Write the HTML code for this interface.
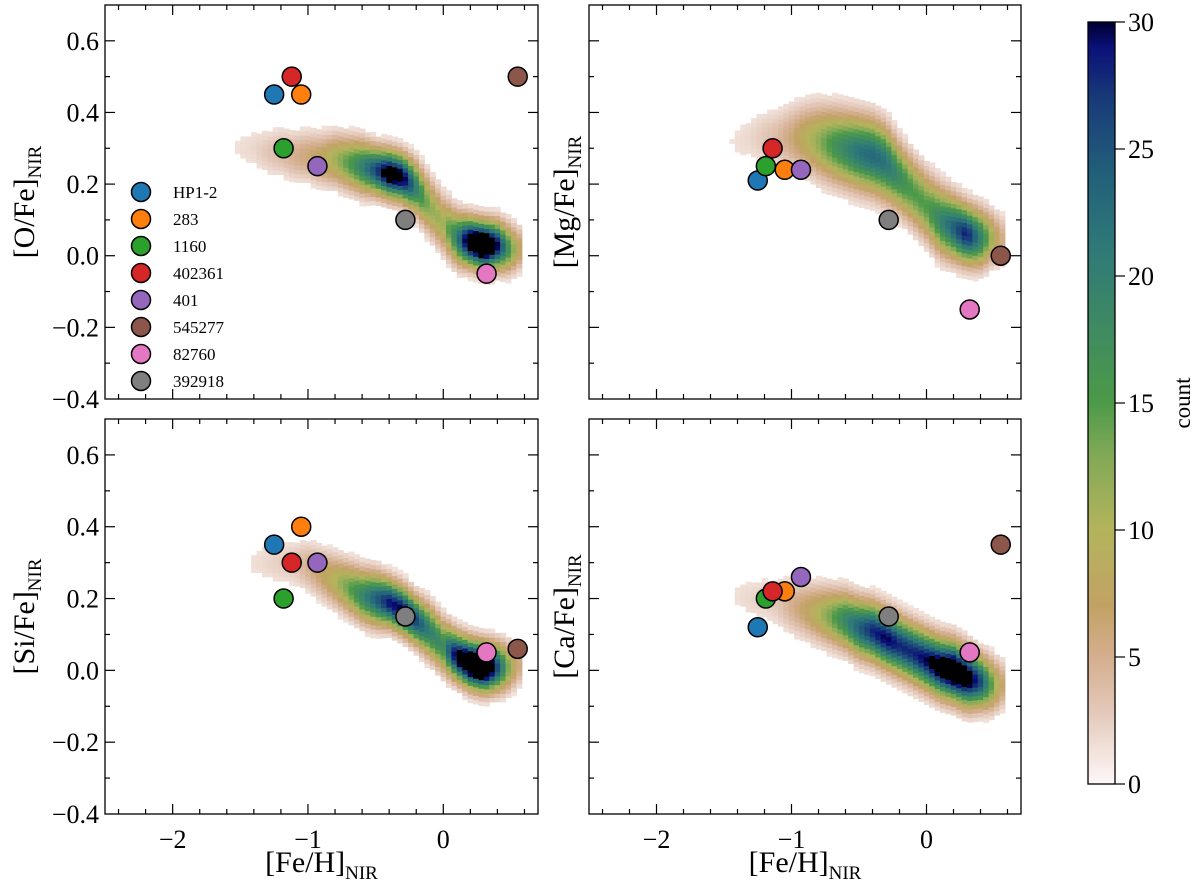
<!DOCTYPE html>
<html><head><meta charset="utf-8"><style>
body{margin:0;background:#fff}
svg{display:block;font-family:"Liberation Serif",serif}
</style></head><body>
<svg id="fig" width="1200" height="886" viewBox="0 0 1200 886">
<defs>
<linearGradient id="cbg" x1="0" y1="1" x2="0" y2="0"></linearGradient>
</defs>
</svg>
<script>
// ---- data ----
var ridgeX = [-1.6,-1.5,-1.4,-1.3,-1.2,-1.1,-1.0,-0.9,-0.8,-0.7,-0.6,-0.5,-0.4,-0.3,-0.2,-0.1,0.0,0.1,0.2,0.3,0.4,0.5,0.6];
var oCenter = [0.30,0.30,0.30,0.29,0.29,0.28,0.28,0.27,0.27,0.26,0.25,0.24,0.23,0.22,0.19,0.14,0.09,0.05,0.04,0.03,0.03,0.02,0.02];
var oPeak   = [1,1.5,2,3,4,5,6,8,11,15,20,26,34,32,20,12,11,20,36,42,30,14,4];
var oWidth  = [0.05,0.05,0.05,0.05,0.05,0.05,0.05,0.05,0.05,0.05,0.05,0.045,0.045,0.045,0.05,0.055,0.055,0.05,0.045,0.045,0.045,0.045,0.04];
var mgCenter = [0.32,0.32,0.32,0.33,0.33,0.33,0.33,0.33,0.32,0.31,0.30,0.29,0.28,0.26,0.22,0.18,0.14,0.10,0.08,0.06,0.05,0.05,0.04];
var mgPeak   = [1,1,1.5,2,3,4,6,9,12,16,19,22,23,22,18,15,15,19,24,29,20,9,3];
var mgWidth  = [0.06,0.06,0.06,0.06,0.06,0.06,0.065,0.065,0.07,0.07,0.07,0.07,0.07,0.07,0.065,0.065,0.065,0.065,0.06,0.055,0.055,0.05,0.05];
var siCenter = [0.30,0.30,0.30,0.30,0.30,0.30,0.29,0.27,0.25,0.23,0.21,0.20,0.19,0.17,0.14,0.11,0.07,0.04,0.02,0.01,0.01,0.01,0.02];
var siPeak   = [0.5,1,1.5,2,2.5,3,5,7,10,14,19,24,29,30,26,20,18,32,40,42,26,10,3];
var siWidth  = [0.05,0.05,0.05,0.05,0.05,0.05,0.05,0.05,0.05,0.05,0.05,0.05,0.045,0.045,0.045,0.05,0.05,0.045,0.045,0.045,0.045,0.045,0.04];
var caCenter = [0.21,0.21,0.21,0.20,0.20,0.19,0.18,0.17,0.16,0.15,0.14,0.12,0.11,0.09,0.07,0.05,0.03,0.01,0.00,-0.02,-0.03,-0.04,-0.04];
var caPeak   = [0.5,1,1.5,2,2.5,3,5,7,10,14,19,24,28,30,28,28,30,34,38,34,26,12,3];
var caWidth  = [0.05,0.05,0.05,0.05,0.05,0.055,0.055,0.055,0.055,0.055,0.055,0.055,0.055,0.055,0.055,0.055,0.055,0.055,0.055,0.055,0.05,0.05,0.045];

var starNames  = ["HP1-2","283","1160","402361","401","545277","82760","392918"];
var starColors = ["#1f77b4","#ff7f0e","#2ca02c","#d62728","#9467bd","#8c564b","#e377c2","#7f7f7f"];
var starFeH    = [-1.25,-1.05,-1.18,-1.12,-0.93,0.55,0.32,-0.28];
var starFeHR   = [-1.25,-1.05,-1.19,-1.14,-0.93,0.55,0.32,-0.28];
var starO  = [0.45,0.45,0.30,0.50,0.25,0.50,-0.05,0.10];
var starMg = [0.21,0.24,0.25,0.30,0.24,0.00,-0.15,0.10];
var starSi = [0.35,0.40,0.20,0.30,0.30,0.06,0.05,0.15];
var starCa = [0.12,0.22,0.20,0.22,0.26,0.35,0.05,0.15];

var xTicks = [-2,-1,0];
var xTickLabels = ["\u22122","\u22121","0"];
var yTicks = [-0.4,-0.2,0.0,0.2,0.4,0.6];
var yTickLabels = ["\u22120.4","\u22120.2","0.0","0.2","0.4","0.6"];
var cbTicks = [0,5,10,15,20,25,30];

// ---- colormap ----
var cmapStops = [[0,"#fdf7f7"],[3,"#e2c6b6"],[5,"#d4ae8e"],[7,"#c2a264"],[10,"#b3b45c"],[13,"#80a856"],[15,"#4c9a48"],[18,"#3f8a62"],[21,"#2f7a78"],[24,"#22607a"],[27,"#183a78"],[29,"#0a1078"],[30,"#000030"]];
function hex2rgb(h){return [parseInt(h.substr(1,2),16),parseInt(h.substr(3,2),16),parseInt(h.substr(5,2),16)];}
function cmap(v){
  if(v>=30) return "#000000";
  for(var i=1;i<cmapStops.length;i++){
    if(v<=cmapStops[i][0]){
      var a=cmapStops[i-1],b=cmapStops[i],t=(v-a[0])/(b[0]-a[0]);
      var ca=hex2rgb(a[1]),cb=hex2rgb(b[1]);
      return "rgb("+ca.map(function(c,k){return Math.round(c+(cb[k]-c)*t);}).join(",")+")";
    }
  }
  return "#000";
}

var NS="http://www.w3.org/2000/svg";
var svg=document.getElementById('fig');
function el(tag,attrs,parent){var e=document.createElementNS(NS,tag);for(var k in attrs)e.setAttribute(k,attrs[k]);(parent||svg).appendChild(e);return e;}

var XMIN=-2.5,XMAX=0.7,YMIN=-0.4,YMAX=0.7;
var panels=[
 {name:"o-fe",x0:105,x1:538,y0:5,y1:399,center:oCenter,peak:oPeak,width:oWidth,sy:starO,sx:starFeH,label:"[O/Fe]",left:true,bottom:false,legend:true},
 {name:"mg-fe",x0:589,x1:1021,y0:5,y1:399,center:mgCenter,peak:mgPeak,width:mgWidth,sy:starMg,sx:starFeHR,label:"[Mg/Fe]",left:false,bottom:false},
 {name:"si-fe",x0:105,x1:538,y0:419,y1:814,center:siCenter,peak:siPeak,width:siWidth,sy:starSi,sx:starFeH,label:"[Si/Fe]",left:true,bottom:true},
 {name:"ca-fe",x0:589,x1:1021,y0:419,y1:814,center:caCenter,peak:caPeak,width:caWidth,sy:starCa,sx:starFeHR,label:"[Ca/Fe]",left:false,bottom:true}
];

panels.forEach(function(p){
  var g=el('g',{});
  
  
  function X(v){return p.x0+(v-XMIN)/(XMAX-XMIN)*(p.x1-p.x0);}
  function Y(v){return p.y1-(v-YMIN)/(YMAX-YMIN)*(p.y1-p.y0);}
  var hm=el('g',{},g);
  
  
  var dx=0.04,dy=0.012;
  for(var fx=-1.66;fx<0.64;fx+=dx){
    var cx=fx+dx/2;
    var f=(cx-ridgeX[0])/0.1, i=Math.floor(f);
    if(i<0||i>=ridgeX.length-1)continue;
    var t=f-i;
    var c=p.center[i]+(p.center[i+1]-p.center[i])*t;
    var pk=p.peak[i]+(p.peak[i+1]-p.peak[i])*t;
    var w=(p.width[i]+(p.width[i+1]-p.width[i])*t)*0.9;
    for(var fy=c-3*w;fy<c+3*w;fy+=dy){
      var cy=fy+dy/2;
      var v=pk*Math.exp(-(cy-c)*(cy-c)/(2*w*w));
      if(v<1.3)continue;
      var r=el('rect',{x:X(fx).toFixed(2),y:Y(fy+dy).toFixed(2),width:(X(fx+dx)-X(fx)+0.6).toFixed(2),height:(Y(fy)-Y(fy+dy)+0.6).toFixed(2),fill:cmap(v)},hm);
      
      
    }
  }
  for(var s=0;s<starNames.length;s++){
    var m=el('circle',{cx:X(p.sx[s]),cy:Y(p.sy[s]),r:9.5,fill:starColors[s],stroke:"#000","stroke-width":1.5},g);
    
    
  }
  var fr=el('rect',{x:p.x0,y:p.y0,width:p.x1-p.x0,height:p.y1-p.y0,fill:"none",stroke:"#000","stroke-width":1.3},g);
  
  
  var tk=el('g',{stroke:"#000","stroke-width":1.2},g);
  
  
  for(var xv=-2.4;xv<=0.61;xv+=0.2){
    var xx=X(xv), major=Math.abs(xv-Math.round(xv))<1e-6, L=major?10:5;
    el('line',{x1:xx,x2:xx,y1:p.y1,y2:p.y1-L},tk);
    el('line',{x1:xx,x2:xx,y1:p.y0,y2:p.y0+L},tk);
  }
  for(var yv=-0.3;yv<=0.65;yv+=0.1){
    var yy=Y(yv), mj=Math.abs(yv*5-Math.round(yv*5))<1e-6, L2=mj?10:5;
    el('line',{x1:p.x0,x2:p.x0+L2,y1:yy,y2:yy},tk);
    el('line',{x1:p.x1,x2:p.x1-L2,y1:yy,y2:yy},tk);
  }
  if(p.left){
    yTicks.forEach(function(v,k){
      var t=el('text',{x:p.x0-6,y:Y(v)+9,"text-anchor":"end","font-size":26},g);
      t.textContent=yTickLabels[k];
      
      
    });
  }
  var yl=el('text',{transform:"translate("+(p.left?34:574)+","+((p.y0+p.y1)/2)+") rotate(-90)","text-anchor":"middle","font-size":30},g);
  yl.innerHTML=p.label+'<tspan font-size="19" dy="7">NIR</tspan>';
  
  
  if(p.bottom){
    xTicks.forEach(function(v,k){
      var t=el('text',{x:X(v),y:p.y1+34,"text-anchor":"middle","font-size":26},g);
      t.textContent=xTickLabels[k];
      
      
    });
    var xl=el('text',{x:(p.x0+p.x1)/2,y:p.y1+58,"text-anchor":"middle","font-size":30},g);
    xl.innerHTML='[Fe/H]<tspan font-size="19" dy="7">NIR</tspan>';
    
    
  }
  if(p.legend){
    var lg=el('g',{},g);
    
    
    for(var s2=0;s2<starNames.length;s2++){
      var yy2=192+s2*27;
      var c2=el('circle',{cx:141,cy:yy2,r:9.5,fill:starColors[s2],stroke:"#000","stroke-width":1.5},lg);
      
      
      var lt=el('text',{x:173,y:yy2+6,"font-size":17},lg);
      lt.textContent=starNames[s2];
      
      
    }
  }
});

var grad=document.getElementById('cbg');
for(var i=0;i<=60;i++){
  var v=i/2;
  el('stop',{offset:(v/30),"stop-color":cmap(Math.min(v,29.99))},grad);
}
var CB={x0:1088,x1:1115,y0:22,y1:784};
var cbg=el('g',{});


var cr=el('rect',{x:CB.x0,y:CB.y0,width:CB.x1-CB.x0,height:CB.y1-CB.y0,fill:"url(#cbg)",stroke:"#000","stroke-width":1.3},cbg);


cbTicks.forEach(function(v){
  var yy=CB.y1-v/30*(CB.y1-CB.y0);
  el('line',{x1:CB.x1,x2:CB.x1+10,y1:yy,y2:yy,stroke:"#000","stroke-width":1.2},cbg);
  var t=el('text',{x:CB.x1+13,y:yy+9,"font-size":26},cbg);
  t.textContent=String(v);
  
  
});
var cl=el('text',{transform:"translate(1190,403) rotate(-90)","text-anchor":"middle","font-size":23},cbg);
cl.textContent="count";


</script>
</body></html>
